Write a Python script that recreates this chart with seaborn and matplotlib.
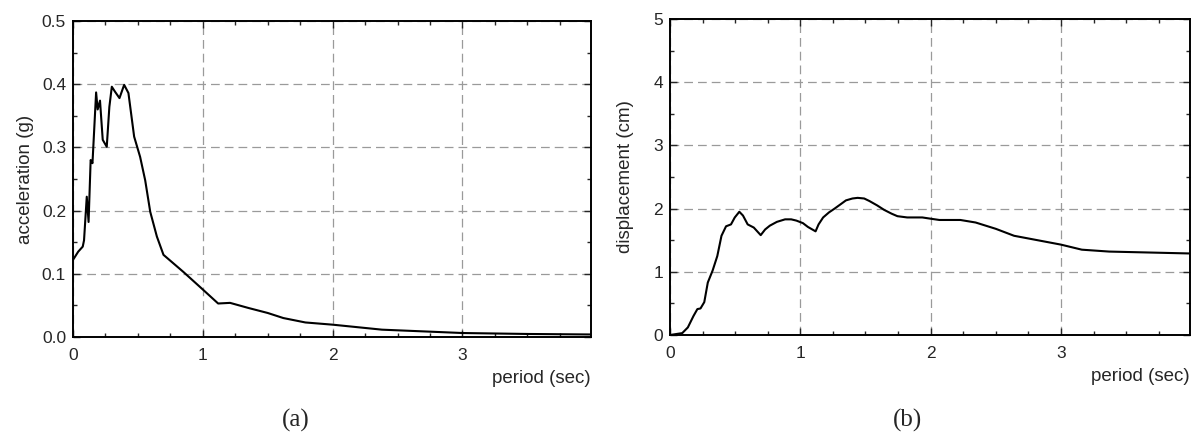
import numpy as np
import pandas as pd
import seaborn as sns
import matplotlib.pyplot as plt
from matplotlib.ticker import MultipleLocator, FormatStrFormatter

# spectral acceleration (a)
period_a = [0.0, 0.04, 0.075, 0.085, 0.106, 0.12, 0.136, 0.15, 0.178, 0.19, 0.208,
            0.229, 0.26, 0.28, 0.299, 0.324, 0.358, 0.394, 0.427, 0.471, 0.517,
            0.556, 0.595, 0.646, 0.697, 0.85, 0.99, 1.118, 1.21, 1.35, 1.5, 1.62,
            1.79, 2.0, 2.38, 3.0, 3.5, 3.99]
accel = [0.122, 0.135, 0.143, 0.153, 0.222, 0.182, 0.28, 0.275, 0.387, 0.36, 0.374,
         0.312, 0.301, 0.364, 0.396, 0.388, 0.378, 0.399, 0.386, 0.317, 0.285,
         0.248, 0.198, 0.159, 0.130, 0.103, 0.077, 0.053, 0.054, 0.046, 0.038, 0.030,
         0.023, 0.0195, 0.0116, 0.0063, 0.0048, 0.004]

# spectral displacement (b)
period_d = [0.0, 0.094, 0.137, 0.18, 0.21, 0.234, 0.263, 0.29, 0.327, 0.363, 0.395,
            0.43, 0.468, 0.497, 0.532, 0.56, 0.596, 0.643, 0.696, 0.73, 0.766, 0.82,
            0.883, 0.93, 0.97, 1.02, 1.058, 1.117, 1.14, 1.175, 1.22, 1.263, 1.31,
            1.35, 1.40, 1.44, 1.49, 1.53, 1.59, 1.643, 1.70, 1.745, 1.82,
            1.936, 2.0, 2.067, 2.228, 2.345, 2.5, 2.64, 2.82, 3.0, 3.16, 3.37, 3.99]
disp = [0.0, 0.03, 0.12, 0.3, 0.41, 0.42, 0.52, 0.83, 1.02, 1.25, 1.57,
        1.72, 1.75, 1.86, 1.95, 1.89, 1.75, 1.70, 1.58, 1.67, 1.73, 1.79,
        1.83, 1.83, 1.81, 1.77, 1.71, 1.64, 1.75, 1.86, 1.94, 2.0, 2.07,
        2.13, 2.16, 2.17, 2.16, 2.12, 2.05, 1.98, 1.92, 1.88, 1.86,
        1.86, 1.84, 1.82, 1.82, 1.78, 1.68, 1.57, 1.50, 1.43, 1.35, 1.32, 1.29]

sns.set_style("ticks")
plt.rcParams['font.family'] = ['Liberation Sans', 'DejaVu Sans']

fig = plt.figure(figsize=(11.91, 4.37), dpi=100)
ax1 = fig.add_axes([73 / 1191, 100 / 437, 518 / 1191, 316 / 437])
ax2 = fig.add_axes([670 / 1191, 102 / 437, 520 / 1191, 316 / 437])

panels = [
    (ax1, period_a, accel, 'acceleration (g)', 0.5, 0.1, 0.05, '%.1f', '(a)', 296, -48 / 518),
    (ax2, period_d, disp, 'displacement (cm)', 5, 1, 0.5, '%d', '(b)', 908, -45 / 520),
]

for ax, x, y, ylab, ymax, ymaj, ymin, fmt, cap, capx, ylx in panels:
    df = pd.DataFrame({'period': x, 'value': y})
    sns.lineplot(data=df, x='period', y='value', ax=ax, color='black',
                 linewidth=1.5, sort=False, estimator=None)
    ax.set_xlim(0, 3.99)
    ax.set_ylim(0, ymax)
    ax.xaxis.set_major_locator(MultipleLocator(1))
    ax.xaxis.set_minor_locator(MultipleLocator(0.25))
    ax.yaxis.set_major_locator(MultipleLocator(ymaj))
    ax.yaxis.set_minor_locator(MultipleLocator(ymin))
    ax.yaxis.set_major_formatter(FormatStrFormatter(fmt))
    ax.tick_params(which='both', direction='in', top=True, right=True,
                   labelsize=12.5, width=1)
    ax.tick_params(axis='x', pad=8)
    ax.tick_params(axis='y', pad=5)
    ax.tick_params(which='major', length=5)
    ax.tick_params(which='minor', length=3)
    ax.grid(True, which='major', linestyle=(0, (7, 4)), color='#9a9a9a', linewidth=0.9)
    for s in ax.spines.values():
        s.set_linewidth(1.4)
        s.set_color('black')
    ax.set_ylabel(ylab, fontsize=13.5, va='center')
    ax.yaxis.set_label_coords(ylx, 0.5)
    ax.set_xlabel('period (sec)', fontsize=13.5, ha='right', va='center')
    ax.xaxis.set_label_coords(1.0, -0.13)
    fig.text(capx / 1191, 1 - 420 / 437, cap, fontsize=18, ha='center', va='center',
             family='Liberation Serif')

fig.savefig('out.png', dpi=100)
